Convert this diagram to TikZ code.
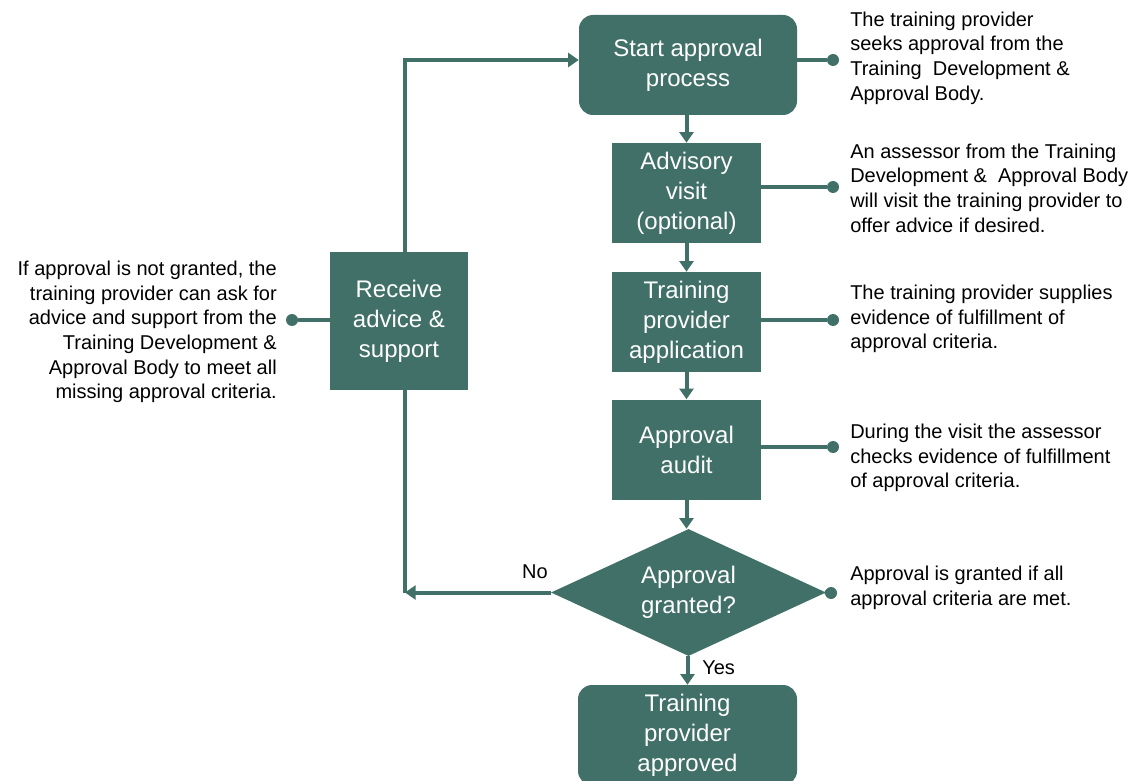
\documentclass[tikz,border=0pt]{standalone}
\usepackage{fontspec}
\setmainfont{Liberation Sans}
\usetikzlibrary{arrows.meta,shapes.geometric}
\definecolor{flow}{RGB}{64,112,103}
\pgfdeclarelayer{background}
\pgfsetlayers{background,main}
\begin{document}
\begin{tikzpicture}[x=0.75pt,y=-0.75pt,
  box/.style={fill=flow, text=white, draw=none, align=center, inner sep=0pt,
    font=\fontsize{18}{22.5}\selectfont},
  rbox/.style={box, rounded corners=10.5pt},
  link/.style={draw=flow, line width=3pt},
  arr/.style={link, -{Triangle[width=10.5pt,length=8pt]}},
  note/.style={font=\fontsize{15}{18.5}\selectfont, inner sep=0pt, text=black},
  dot/.style={circle, fill=flow, inner sep=0pt, minimum size=9pt},
  lbl/.style={font=\fontsize{15}{18}\selectfont, inner sep=0pt}
]
\useasboundingbox (0,0) rectangle (1136,781);

% process steps
\node[rbox, minimum width=163.5pt, minimum height=75pt] (start) at (688,65) {Start approval\\process};
\node[box, minimum width=111.75pt, minimum height=75pt] (visit) at (686.5,193) {Advisory\\visit\\(optional)};
\node[box, minimum width=111.75pt, minimum height=75pt] (appl) at (686.5,322) {Training\\provider\\application};
\node[box, minimum width=111.75pt, minimum height=75pt] (audit) at (686.5,449.5) {Approval\\audit};
\node[box, diamond, aspect=2.165, minimum width=206.25pt, minimum height=95.25pt] (dec) at (688.5,592.5) {Approval\\granted?};
\node[rbox, minimum width=164.25pt, minimum height=75pt] (done) at (687.5,735) {Training\\provider\\approved};
\node[box, minimum width=103.5pt, minimum height=103.5pt] (help) at (399,321) {Receive\\advice \&\\support};

% main flow
\draw[arr] (start.south -| visit) -- (visit.north);
\draw[arr] (visit) -- (appl);
\draw[arr] (appl) -- (audit);
\draw[arr] (audit.south) -- (audit.south |- dec.north);
\draw[arr] (dec.south -| done) -- (done.north);
\node[lbl, anchor=west] (yes) at (702,668) {Yes};
\node[lbl] (no) at (535,572) {No};

% loop back to the start
\coordinate (loopt) at (405,60);
\begin{pgfonlayer}{background}
\draw[arr] (dec.west) -- (dec.west -| loopt);
\draw[arr] (dec.west -| loopt) -- (loopt) -- (start.west |- loopt);
\end{pgfonlayer}

% notes
\node[dot] (d1) at (833,60) {};
\node[dot] (d2) at (833,187) {};
\node[dot] (d3) at (833,320) {};
\node[dot] (d4) at (833,447) {};
\node[dot] (d5) at (831,593) {};
\node[dot] (d6) at (292,320) {};
\draw[link] (start.east |- d1) -- (d1);
\draw[link] (visit.east |- d2) -- (d2);
\draw[link] (appl.east |- d3) -- (d3);
\draw[link] (audit.east |- d4) -- (d4);
\draw[link] (dec.east) -- (d5);
\draw[link] (d6) -- (help.west |- d6);

\node[note, anchor=west, align=left] (n1) at (850,58) {The training provider\\seeks approval from the\\Training\ \ Development \&\\Approval Body.};
\node[note, anchor=west, align=left] (n2) at (850,188) {An assessor from the Training\\Development \&\ \ Approval Body\\will visit the training provider to\\offer advice if desired.};
\node[note, anchor=west, align=left] (n3) at (850,319) {The training provider supplies\\evidence of fulfillment of\\approval criteria.};
\node[note, anchor=west, align=left] (n4) at (850,458) {During the visit the assessor\\checks evidence of fulfillment\\of approval criteria.};
\node[note, anchor=west, align=left] (n5) at (850,588) {Approval is granted if all\\approval criteria are met.};
\node[note, anchor=east, align=right] (n6) at (277,332) {If approval is not granted, the\\training provider can ask for\\advice and support from the\\Training Development \&\\Approval Body to meet all\\missing approval criteria.};
\end{tikzpicture}
\end{document}
